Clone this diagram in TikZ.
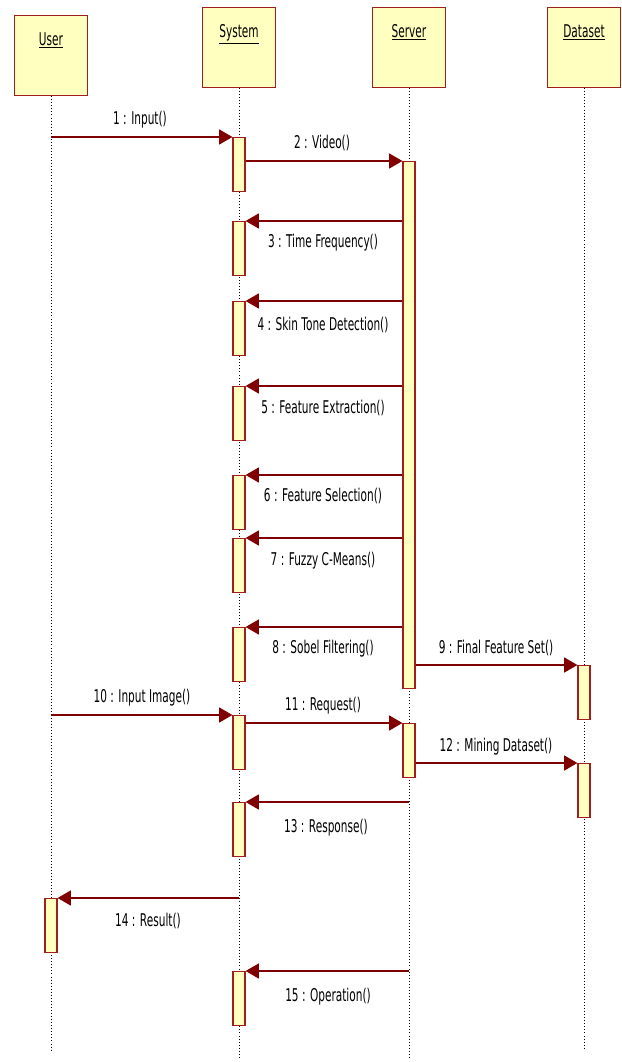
\documentclass[tikz,border=0pt]{standalone}
\usepackage{fontspec}
\setmainfont[FakeStretch=0.6]{DejaVu Sans}
\usetikzlibrary{arrows.meta}
\definecolor{msgred}{RGB}{128,0,0}
\definecolor{boxred}{RGB}{160,30,30}
\definecolor{boxfill}{RGB}{255,255,192}
\tikzset{
	head/.style={draw=boxred, fill=boxfill, line width=1pt, anchor=north,
		minimum width=2.19cm, text height=0.8cm, text depth=1.4cm, inner sep=0.1cm,
		font=\fontsize{15}{17}\selectfont},
	bar/.style={draw=boxred, fill=boxfill, line width=1pt, anchor=north,
		minimum width=0.36cm, minimum height=1.62cm, inner sep=0pt},
	msg/.style={draw=msgred, line width=1.5pt, -{Triangle[length=0.4cm, width=0.45cm]}},
	life/.style={dotted, line width=0.6pt},
	txt/.style={font=\fontsize{15}{17}\selectfont}
}
\begin{document}
\begin{tikzpicture}[x=0.03cm, y=-0.03cm]
	\useasboundingbox (0,0) rectangle (622,1062);
	
	% Object heads
	\node[head] (usr) at (51,15) {\underline{User}};
	\node[head] (sys) at (239,7) {\underline{System}};
	\node[head] (srv) at (409,7) {\underline{Server}};
	\node[head] (dts) at (584,7) {\underline{Dataset}};
	
	% Lifelines
	\coordinate (usrend) at (51,1050);
	\coordinate (sysend) at (239,1058);
	\coordinate (srvend) at (409,1058);
	\coordinate (dtsend) at (584,1050);
	\draw[life] (usr.south) -- (usrend);
	\draw[life] (sys.south) -- (sysend);
	\draw[life] (srv.south) -- (srvend);
	\draw[life] (dts.south) -- (dtsend);
	
	% Activation bars
	\node[bar] (sys1) at (239,137) {};
	\node[bar, minimum height=15.81cm] (srv1) at (409,161) {};
	\foreach \n/\y in {3/221, 4/301, 5/386, 6/475, 7/538, 8/627, 10/715, 13/802, 15/971} {
		\node[bar] (sys\n) at (239,\y) {};
	}
	\node[bar] (srv2) at (409,723) {};
	\node[bar] (dts1) at (584,665) {};
	\node[bar] (dts2) at (584,763) {};
	\node[bar] (usr14) at (51,898) {};
	
	% Messages
	\draw[msg] (usr |- sys1.north west) -- (sys1.north west);
	\draw[msg] (sys1.east |- srv1.north west) -- (srv1.north west);
	\foreach \n in {3,4,5,6,7,8} {
		\draw[msg] (srv1.west |- sys\n.north east) -- (sys\n.north east);
	}
	\draw[msg] (srv1.east |- dts1.north west) -- (dts1.north west);
	\draw[msg] (usr |- sys10.north west) -- (sys10.north west);
	\draw[msg] (sys10.east |- srv2.north west) -- (srv2.north west);
	\draw[msg] (srv2.east |- dts2.north west) -- (dts2.north west);
	\draw[msg] (srv |- sys13.north east) -- (sys13.north east);
	\draw[msg] (sys |- usr14.north east) -- (usr14.north east);
	\draw[msg] (srv |- sys15.north east) -- (sys15.north east);
	
	% Message labels
	\node[txt] (m1) at (140,120) {1 : Input()};
	\node[txt] (m2) at (322,143) {2 : Video()};
	\node[txt] (m3) at (323,243) {3 : Time Frequency()};
	\node[txt] (m4) at (323,325) {4 : Skin Tone Detection()};
	\node[txt] (m5) at (323,408) {5 : Feature Extraction()};
	\node[txt] (m6) at (323,496) {6 : Feature Selection()};
	\node[txt] (m7) at (323,561) {7 : Fuzzy C-Means()};
	\node[txt] (m8) at (323,649) {8 : Sobel Filtering()};
	\node[txt] (m9) at (496,648) {9 : Final Feature Set()};
	\node[txt] (m10) at (142,698) {10 : Input Image()};
	\node[txt] (m11) at (323,706) {11 : Request()};
	\node[txt] (m12) at (496,747) {12 : Mining Dataset()};
	\node[txt] (m13) at (326,828) {13 : Response()};
	\node[txt] (m14) at (148,921) {14 : Result()};
	\node[txt] (m15) at (328,997) {15 : Operation()};
\end{tikzpicture}
\end{document}
